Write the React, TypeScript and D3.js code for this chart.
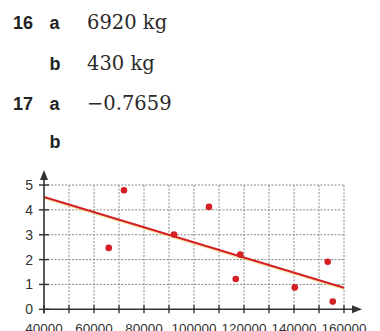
import React from "react";
import * as d3 from "d3";

const W = 380;
const H = 331;

const answerRows = [
  { num: "16", part: "a", text: "6920 kg" },
  { num: "", part: "b", text: "430 kg" },
  { num: "17", part: "a", text: "\u22120.7659" },
  { num: "", part: "b", text: "" },
];
const rowBaselines = [29, 70, 110, 148];

const pointX = [65900, 72000, 92000, 106000, 116700, 118500, 140300, 153500, 155500];
const pointY = [2.47, 4.79, 3.01, 4.12, 1.22, 2.2, 0.88, 1.91, 0.31];

const lineX = [40000, 160000];
const lineY = [4.52, 0.87];

const xTickLabels = [40000, 60000, 80000, 100000, 120000, 140000, 160000];
const xMinorTicks = [40000, 50000, 60000, 70000, 80000, 90000, 100000, 110000, 120000, 130000, 140000, 150000, 160000];
const yTicks = [0, 1, 2, 3, 4, 5];

export default function App() {
  const x = d3.scaleLinear().domain([40000, 160000]).range([44, 344]);
  const y = d3.scaleLinear().domain([0, 5]).range([309.3, 185]);
  const line = d3
    .line<number>()
    .x((d, i) => x(lineX[i]))
    .y((d, i) => y(d));

  const axisColor = "#333";
  const gridColor = "#888";
  const red = "#d42025";

  return (
    <svg
      width={W}
      height={H}
      style={{ position: "absolute", left: 0, top: 0, background: "#fff" }}
    >
      {answerRows.map((r, i) => (
        <g key={i}>
          {r.num && (
            <text x={13} y={rowBaselines[i]} fontFamily="Liberation Sans, Arial, sans-serif" fontWeight="bold" fontSize={18} fill="#222">
              {r.num}
            </text>
          )}
          <text x={49.5} y={rowBaselines[i]} fontFamily="Liberation Sans, Arial, sans-serif" fontWeight="bold" fontSize={18} fill="#222">
            {r.part}
          </text>
          {r.text && (
            <text x={87} y={rowBaselines[i]} fontFamily="DejaVu Serif, serif" fontSize={19.5} fill="#2a2a2a">
              {r.text}
            </text>
          )}
        </g>
      ))}

      {/* grid */}
      <g stroke={gridColor} strokeWidth={1} strokeDasharray="2,1.5">
        {xMinorTicks.slice(1).map((v) => (
          <line key={"gx" + v} x1={x(v)} x2={x(v)} y1={y(5)} y2={y(0)} />
        ))}
        {yTicks.slice(1).map((v) => (
          <line key={"gy" + v} x1={x(40000)} x2={x(160000)} y1={y(v)} y2={y(v)} />
        ))}
      </g>

      {/* regression line */}
      <path d={line(lineY) || ""} transform="translate(0,1.5)" stroke="#f2d35a" strokeOpacity={0.5} strokeWidth={1.5} fill="none" />
      <path d={line(lineY) || ""} stroke={red} strokeWidth={2} fill="none" />

      {/* points */}
      {pointX.map((v, i) => (
        <circle key={"p" + i} cx={x(v)} cy={y(pointY[i])} r={3.3} fill={red} />
      ))}

      {/* axes */}
      <line x1={x(40000)} x2={354} y1={y(0)} y2={y(0)} stroke={axisColor} strokeWidth={1.6} />
      <path d={`M362,${y(0)} L352,${y(0) - 4} L352,${y(0) + 4} Z`} fill={axisColor} />
      <line x1={x(40000)} x2={x(40000)} y1={y(0) + 4} y2={178} stroke={axisColor} strokeWidth={1.6} />
      <path d={`M${x(40000)},170 L${x(40000) - 4},180 L${x(40000) + 4},180 Z`} fill={axisColor} />

      {xMinorTicks.map((v) => (
        <line key={"tx" + v} x1={x(v)} x2={x(v)} y1={y(0) - 4} y2={y(0) + 4} stroke={axisColor} strokeWidth={1.4} />
      ))}
      {yTicks.map((v) => (
        <line key={"ty" + v} x1={x(40000) - 5} x2={x(40000) + 5} y1={y(v)} y2={y(v)} stroke={axisColor} strokeWidth={1.4} />
      ))}

      {yTicks.map((v) => (
        <text key={"ly" + v} x={33} y={y(v) + 5} textAnchor="end" fontFamily="Liberation Sans, Arial, sans-serif" fontSize={14} fill="#333">
          {v}
        </text>
      ))}
      {xTickLabels.map((v) => (
        <text key={"lx" + v} x={x(v)} y={333} textAnchor="middle" fontFamily="Liberation Sans, Arial, sans-serif" fontSize={13.5} fill="#333">
          {v}
        </text>
      ))}
    </svg>
  );
}
